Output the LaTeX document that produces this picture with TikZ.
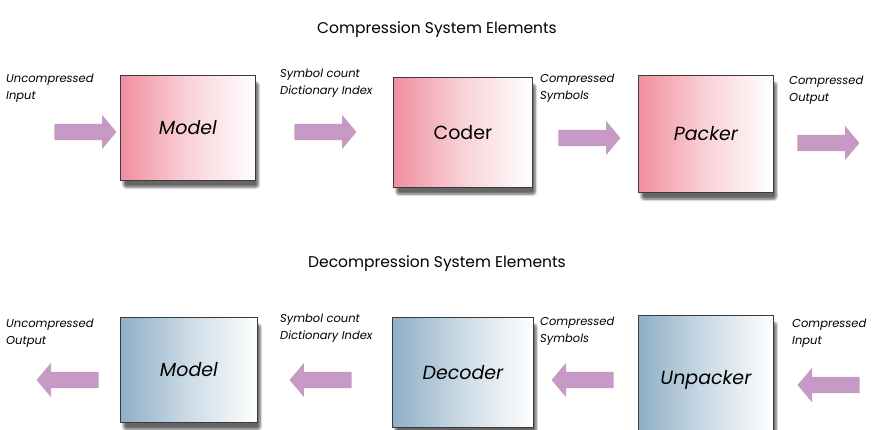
\documentclass[tikz,border=0pt]{standalone}
\usepackage{fontspec}
\setmainfont{Poppins}
\usetikzlibrary{shapes.arrows,shadows.blur}
\definecolor{pinkL}{HTML}{F08E9E}
\definecolor{blueL}{HTML}{8EAFC6}
\definecolor{arrowC}{HTML}{C79AC6}
\definecolor{edgeC}{HTML}{3A3A3A}
\tikzset{
  pinkbox/.style={draw=edgeC, line width=0.8pt, left color=pinkL, right color=white, middle color=pinkL!40!white,
    blur shadow={shadow xshift=3pt, shadow yshift=-7pt, shadow blur steps=10, shadow blur extra rounding=3pt, shadow opacity=60},
    inner sep=0pt, anchor=north west},
  bluebox/.style={pinkbox, left color=blueL, right color=white, middle color=blueL!45!white},
  boxtext/.style={font=\fontsize{19}{22}\selectfont\itshape},
  blockarrow/.style={single arrow, draw=none, fill=arrowC, inner xsep=0pt, inner ysep=8pt, minimum width=34pt,
    single arrow head extend=9pt, single arrow tip angle=100, minimum height=62pt},
  lbl/.style={anchor=north west, align=left, inner sep=0pt, font=\fontsize{11.5}{16.5}\selectfont\itshape},
  ttl/.style={font=\fontsize{15.5}{18}\selectfont, inner sep=0pt}
}
\begin{document}
\begin{tikzpicture}[x=1pt,y=-1pt]
\useasboundingbox (0,0) rectangle (874,430);
% titles
\node[ttl] (t1) at (437,30) {Compression System Elements};
\node[ttl] (t2) at (437,264) {Decompression System Elements};
% top boxes
\node[pinkbox, minimum width=135pt, minimum height=105pt] (model1) at (120,75) {};
\node[boxtext] (model1t) at (model1.center) {Model};
\node[pinkbox, minimum width=139pt, minimum height=110pt] (coder) at (393,77) {};
\node[boxtext, font=\fontsize{19}{22}\selectfont\upshape] (codert) at (coder.center) {Coder};
\node[pinkbox, minimum width=135pt, minimum height=117pt] (packer) at (638,75) {};
\node[boxtext] (packert) at (packer.center) {Packer};
% top arrows
\node[blockarrow] (a1) at (82,132) {};
\node[blockarrow] (a2) at (322,132) {};
\node[blockarrow] (a3) at (586,138) {};
\node[blockarrow] (a4) at (825,143) {};
% top labels
\node[lbl] (l1) at (6,74) {Uncompressed\\Input};
\node[lbl] (l2) at (280,69) {Symbol count\\Dictionary Index};
\node[lbl] (l3) at (540,74) {Compressed\\Symbols};
\node[lbl] (l4) at (789,76) {Compressed\\Output};
% bottom boxes
\node[bluebox, minimum width=137pt, minimum height=105pt] (model2) at (120,317) {};
\node[boxtext] (model2t) at (model2.center) {Model};
\node[bluebox, minimum width=141pt, minimum height=110pt] (decoder) at (392,317) {};
\node[boxtext] (decodert) at (decoder.center) {Decoder};
\node[bluebox, minimum width=135pt, minimum height=125pt] (unpacker) at (638,315) {};
\node[boxtext] (unpackert) at ([yshift=-2pt]unpacker.center) {Unpacker};
% bottom arrows
\node[blockarrow, shape border rotate=180] (b1) at (71,380) {};
\node[blockarrow, shape border rotate=180] (b2) at (324,380) {};
\node[blockarrow, shape border rotate=180] (b3) at (586,380) {};
\node[blockarrow, shape border rotate=180] (b4) at (832,385) {};
% bottom labels
\node[lbl] (m1) at (6,319) {Uncompressed\\Output};
\node[lbl] (m2) at (280,314) {Symbol count\\Dictionary Index};
\node[lbl] (m3) at (540,317) {Compressed\\Symbols};
\node[lbl] (m4) at (792,319) {Compressed\\Input};
\end{tikzpicture}
\end{document}
